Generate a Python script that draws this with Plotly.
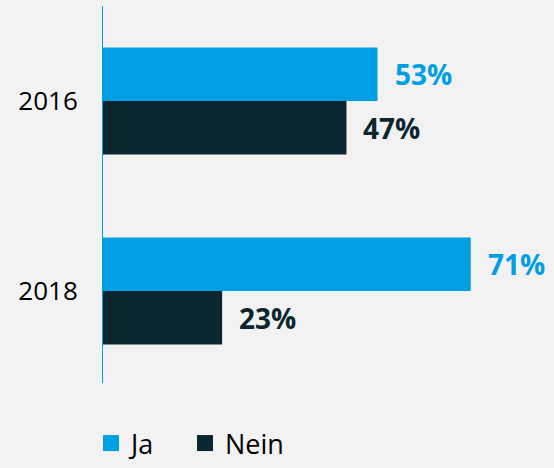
import plotly.graph_objects as go

years = ["2016", "2018"]
ja = [53, 71]
nein = [47, 23]
series_names = ["Ja", "Nein"]
colors = ["#009FE3", "#0A2630"]
legend_ids = ["legend", "legend2"]

fig = go.Figure()
for name, vals, col, lg in zip(series_names, [ja, nein], colors, legend_ids):
    fig.add_trace(go.Bar(
        y=years, x=vals, name=name, orientation="h",
        marker=dict(color=col, line=dict(width=0)),
        showlegend=False,
        textposition="none",
    ))
    fig.add_trace(go.Scatter(
        x=[None], y=[None], mode="markers", name=name, legend=lg,
        marker=dict(symbol="square", size=16, color=col),
    ))

# value labels
for i, (vals, col) in enumerate(zip([ja, nein], colors)):
    off = -0.14 if i == 0 else 0.14
    for k, v in enumerate(vals):
        fig.add_annotation(
            x=v, y=k + off, xref="x", yref="y",
            text=f"<b>{v}%</b>", showarrow=False,
            xanchor="left", yanchor="middle", xshift=15,
            font=dict(family="Open Sans", size=28, color=col),
        )

leg_common = dict(orientation="h", xref="container", yref="container",
                  y=0, xanchor="left", yanchor="bottom",
                  font=dict(size=27, color="#000000"),
                  bgcolor="rgba(0,0,0,0)")

fig.update_layout(
    width=554, height=468,
    margin=dict(l=103, r=0, t=6, b=85, autoexpand=False),
    paper_bgcolor="#F2F2F2", plot_bgcolor="#F2F2F2",
    barmode="group", bargap=0.437, bargroupgap=0,
    font=dict(family="Open Sans", size=26, color="#000000"),
    showlegend=True,
    legend=dict(x=91 / 554, **leg_common),
    legend2=dict(x=185 / 554, **leg_common),
)
fig.update_xaxes(range=[0, 87.07], showgrid=False, zeroline=False,
                 showticklabels=False, showline=False)
fig.update_yaxes(type="category", range=[1.484, -0.5], showgrid=False,
                 zeroline=False, showline=True, linecolor="#009FE3", linewidth=1,
                 ticks="", ticklabelstandoff=19, automargin=False)

fig.write_html(
    "out.html",
    config={"displayModeBar": False},
    post_script="document.body.style.margin='0';document.body.style.background='#F2F2F2';",
)
